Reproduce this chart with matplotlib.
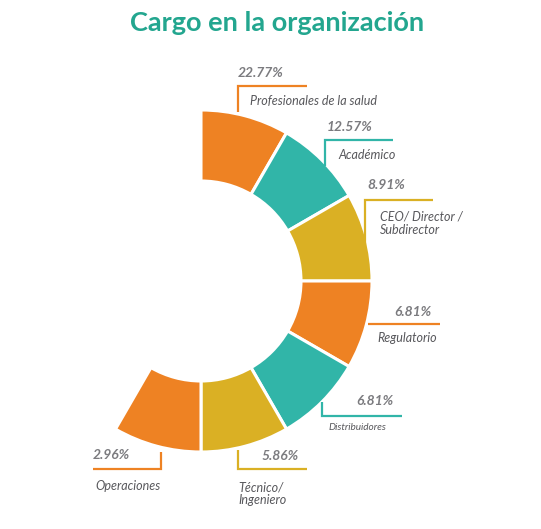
import matplotlib
matplotlib.use("Agg")
import matplotlib.pyplot as plt

# datos
categorias = ["Profesionales de la salud", "Académico", "CEO/ Director /\nSubdirector",
              "Regulatorio", "Distribuidores", "Técnico/\nIngeniero", "Operaciones"]
porcentajes = [22.77, 12.57, 8.91, 6.81, 6.81, 5.86, 2.96]
colores = ["#EE8223", "#31B5A8", "#DAB024", "#EE8223", "#31B5A8", "#DAB024", "#EE8223"]

W, H = 541, 529
cx, cy, R, r = 201, 281, 171, 100

fig = plt.figure(figsize=(W / 100, H / 100), dpi=100)
fig.patch.set_facecolor("white")

# anillo: cada categoria ocupa 30 grados, el resto queda vacio
axp = fig.add_axes([(cx - R) / W, (H - cy - R) / H, 2 * R / W, 2 * R / H])
tamanos = [1] * len(categorias) + [12 - len(categorias)]
wedges, _ = axp.pie(tamanos, colors=colores + ["none"], startangle=90, counterclock=False,
                    radius=1, wedgeprops=dict(width=(R - r) / R, edgecolor="white", linewidth=2.2))
wedges[-1].set_edgecolor("none")
axp.set_xlim(-1, 1)
axp.set_ylim(-1, 1)
axp.set_aspect("equal")
axp.axis("off")

# capa de texto en pixeles
ax = fig.add_axes([0, 0, 1, 1])
ax.set_xlim(0, W)
ax.set_ylim(H, 0)
ax.axis("off")

ax.text(277, 23, "Cargo en la organización", color="#23A68F", fontsize=19.5,
        fontweight="bold", family=["Lato", "DejaVu Sans"], ha="center", va="center")

# linea guia: lista de puntos, posicion del porcentaje, posicion de la etiqueta
guias = [
    ([(238, 112), (238, 86), (307, 86)], (238, 73, "left"), (250, 101, "left")),
    ([(325, 166), (325, 140), (393, 140)], (327, 127, "left"), (338, 155, "left")),
    ([(365, 250), (365, 200), (433, 200)], (367, 185, "left"), (380, 223, "left")),
    ([(368, 324), (440, 324)], (432, 312, "right"), (377, 338, "left")),
    ([(322, 402), (322, 416), (402, 416)], (394, 401, "right"), (329, 428, "left")),
    ([(238, 450), (238, 469), (307, 469)], (299, 456, "right"), (238, 494, "left")),
    ([(161, 452), (161, 469), (93, 469)], (93, 455, "left"), (95, 486, "left")),
]

for i, (pts, pp, pl) in enumerate(guias):
    xs = [p[0] for p in pts]
    ys = [p[1] for p in pts]
    ax.plot(xs, ys, color=colores[i], lw=1.6, solid_capstyle="butt", solid_joinstyle="miter")
    ax.text(pp[0], pp[1], f"{porcentajes[i]:.2f}%", color="#7B7B7F", fontsize=10,
            fontweight="bold", style="italic", family=["Lato", "DejaVu Sans"],
            ha=pp[2], va="center")
    tam = 7.2 if categorias[i] == "Distribuidores" else 9
    ax.text(pl[0], pl[1], categorias[i], color="#58585C", fontsize=tam, style="italic",
            family=["Lato", "DejaVu Sans"], ha=pl[2], va="center", linespacing=1.1)

fig.savefig("out.png", dpi=100, facecolor="white")
